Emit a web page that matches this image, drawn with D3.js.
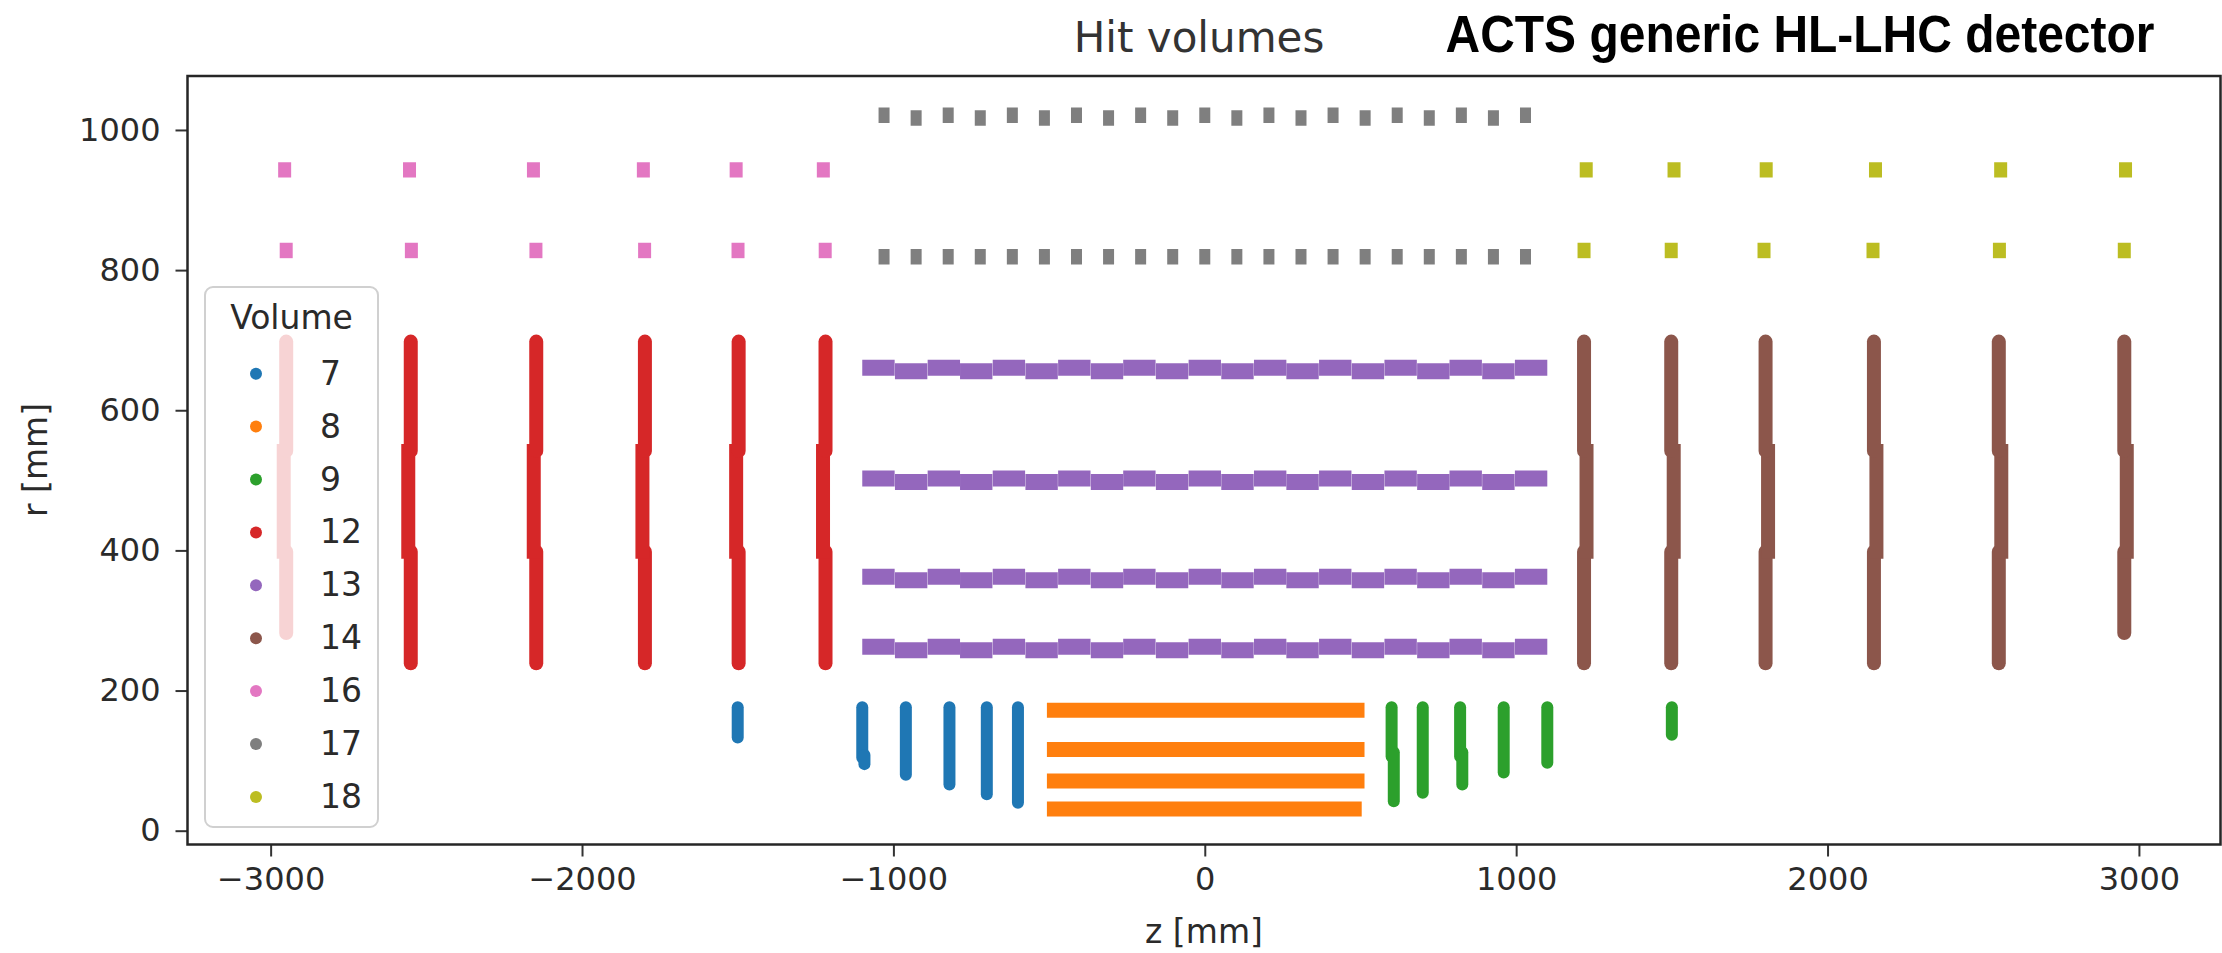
<!DOCTYPE html>
<html>
<head>
<meta charset="utf-8">
<script src="https://cdn.jsdelivr.net/npm/d3@7"></script>
<style>
  body { margin: 0; background: #fff; }
</style>
</head>
<body>
<svg id="chart" width="2222" height="953"></svg>
<script>
// ---- volume ids and their colours ----
const volumeIds = [7, 8, 9, 12, 13, 14, 16, 17, 18];
const volumeColors = ["#1f77b4", "#ff7f0e", "#2ca02c", "#d62728", "#9467bd",
                      "#8c564b", "#e377c2", "#7f7f7f", "#bcbd22"];

// ---- axis ticks ----
const zTicks = [-3000, -2000, -1000, 0, 1000, 2000, 3000];
const rTicks = [0, 200, 400, 600, 800, 1000];

// ---- hit extents, all in mm ----
// disks: [z, rMin, rMax]   layers: [r, zMin, zMax]
const vol7Disks = [              // pixel endcap, negative side
  [-1500, 133, 176],
  [-1100, 104, 176], [-1093, 95, 108],
  [-960, 80, 176],
  [-820, 66, 176],
  [-700, 52, 176],
  [-600, 40, 176]
];
const vol8Layers = [             // pixel barrel
  [172, -507, 513],
  [116, -507, 513],
  [71, -507, 513],
  [31, -507, 504]
];
const vol9Disks = [              // pixel endcap, positive side
  [600, 106, 176], [607, 42, 112],
  [700, 54, 176],
  [820, 106, 176], [827, 66, 112],
  [960, 83, 176],
  [1100, 97, 176],
  [1500, 137, 176]
];
const vol12Disks = [             // short strip endcap, negative side
  [-2950, 282, 398], [-2958, 388, 552], [-2950, 542, 698],
  [-2550, 239, 398], [-2558, 388, 552], [-2550, 542, 698],
  [-2147, 239, 398], [-2155, 388, 552], [-2147, 542, 698],
  [-1798, 239, 398], [-1806, 388, 552], [-1798, 542, 698],
  [-1497, 239, 398], [-1505, 388, 552], [-1497, 542, 698],
  [-1218, 239, 398], [-1226, 388, 552], [-1218, 542, 698]
];
const vol13LayerR = [260, 360, 500, 658];      // short strip barrel radii
const vol13ModuleZ = [-1048, -943, -838, -734, -629, -524, -419, -314, -210, -105, 0,
                      105, 210, 314, 419, 524, 629, 734, 838, 943, 1048];
const vol13ModuleHalfLength = 52;
const vol13Stagger = 2.5;
const vol14Disks = [             // short strip endcap, positive side
  [1218, 239, 398], [1226, 388, 552], [1218, 542, 698],
  [1498, 239, 398], [1506, 388, 552], [1498, 542, 698],
  [1801, 239, 398], [1809, 388, 552], [1801, 542, 698],
  [2149, 239, 398], [2157, 388, 552], [2149, 542, 698],
  [2550, 239, 398], [2558, 388, 552], [2550, 542, 698],
  [2953, 282, 398], [2961, 388, 552], [2953, 542, 698]
];
const vol16Hits = [              // long strip endcap, negative side
  [-2955, 932, 954], [-2554, 932, 954], [-2156, 932, 954],
  [-1803, 932, 954], [-1505, 932, 954], [-1225, 932, 954],
  [-2950, 817, 839], [-2548, 817, 839], [-2148, 817, 839],
  [-1799, 817, 839], [-1499, 817, 839], [-1219, 817, 839]
];
const vol17ModuleZ = [-1030, -927, -824, -721, -618, -515, -412, -309, -206, -103, 0,
                      103, 206, 309, 412, 515, 618, 721, 824, 927, 1030];
const vol17OuterHigh = [1010, 1032];
const vol17OuterLow = [1006, 1028];
const vol17Inner = [808, 830];
const vol18Hits = [              // long strip endcap, positive side
  [1225, 932, 954], [1507, 932, 954], [1803, 932, 954],
  [2154, 932, 954], [2556, 932, 954], [2957, 932, 954],
  [1218, 817, 839], [1498, 817, 839], [1796, 817, 839],
  [2146, 817, 839], [2552, 817, 839], [2953, 817, 839]
];

// ---- layout ----
const svg = d3.select("#chart");
const plot = { left: 187.5, right: 2220.5, top: 76, bottom: 844.5 };
const x = d3.scaleLinear().domain([-3267, 3262]).range([plot.left, plot.right]);
const y = d3.scaleLinear().domain([-19.7, 1077]).range([plot.bottom, plot.top]);
const color = d3.scaleOrdinal().domain(volumeIds).range(volumeColors);
const FONT = "DejaVu Sans, sans-serif";

svg.append("clipPath").attr("id", "plotClip")
  .append("rect").attr("x", plot.left).attr("y", plot.top)
  .attr("width", plot.right - plot.left).attr("height", plot.bottom - plot.top);
const marks = svg.append("g").attr("clip-path", "url(#plotClip)");

function drawDisks(rows, vol, width, cap) {
  marks.append("g").selectAll("line").data(rows).join("line")
    .attr("x1", d => x(d[0])).attr("x2", d => x(d[0]))
    .attr("y1", d => y(d[1])).attr("y2", d => y(d[2]))
    .attr("stroke", color(vol)).attr("stroke-width", width)
    .attr("stroke-linecap", cap);
}
function drawLayers(rows, vol, width, cap) {
  marks.append("g").selectAll("line").data(rows).join("line")
    .attr("x1", d => x(d[1])).attr("x2", d => x(d[2]))
    .attr("y1", d => y(d[0])).attr("y2", d => y(d[0]))
    .attr("stroke", color(vol)).attr("stroke-width", width)
    .attr("stroke-linecap", cap);
}
// rings of a disk: innermost and outermost ends rounded, inner joints flat
function drawRings(rows, vol, width) {
  marks.append("g").selectAll("line").data(rows).join("line")
    .attr("x1", d => x(d[0])).attr("x2", d => x(d[0]))
    .attr("y1", d => y(d[1])).attr("y2", d => y(d[2]))
    .attr("stroke", color(vol)).attr("stroke-width", width)
    .attr("stroke-linecap", (d, i) => (i % 3 === 1 ? "butt" : "round"));
}

// volume 7
drawDisks(vol7Disks, 7, 12, "round");
// volume 8
drawLayers(vol8Layers, 8, 15, "butt");
// volume 9
drawDisks(vol9Disks, 9, 12, "round");
// volume 12
drawRings(vol12Disks, 12, 14);
// volume 13: staggered modules on each layer
const vol13Modules = [];
vol13LayerR.forEach(r => vol13ModuleZ.forEach((z, i) => {
  const rr = i % 2 === 0 ? r + vol13Stagger : r - vol13Stagger;
  vol13Modules.push([rr, z - vol13ModuleHalfLength, z + vol13ModuleHalfLength]);
}));
drawLayers(vol13Modules, 13, 16, "butt");
// volume 14
drawRings(vol14Disks, 14, 14);
// volume 16
drawDisks(vol16Hits, 16, 13, "butt");
// volume 17
const vol17Hits = [];
vol17ModuleZ.forEach((z, i) => {
  const outer = i % 2 === 0 ? vol17OuterHigh : vol17OuterLow;
  vol17Hits.push([z, outer[0], outer[1]]);
  vol17Hits.push([z, vol17Inner[0], vol17Inner[1]]);
});
drawDisks(vol17Hits, 17, 11, "butt");
// volume 18
drawDisks(vol18Hits, 18, 13, "butt");

// ---- axes ----
const fmt = d3.format("d");
const xAxis = svg.append("g")
  .attr("transform", `translate(0,${plot.bottom})`)
  .call(d3.axisBottom(x).tickValues(zTicks).tickFormat(fmt).tickSize(12).tickSizeOuter(0).tickPadding(11));
const yAxis = svg.append("g")
  .attr("transform", `translate(${plot.left},0)`)
  .call(d3.axisLeft(y).tickValues(rTicks).tickFormat(fmt).tickSize(12).tickSizeOuter(0).tickPadding(15));
[xAxis, yAxis].forEach(g => {
  g.select(".domain").remove();
  g.selectAll(".tick line").attr("stroke", "#333").attr("stroke-width", 2);
  g.selectAll(".tick text").attr("fill", "#2a2a2a")
    .style("font-size", "32px").style("font-family", FONT);
});

// frame
svg.append("rect")
  .attr("x", plot.left).attr("y", plot.top)
  .attr("width", plot.right - plot.left).attr("height", plot.bottom - plot.top)
  .attr("fill", "none").attr("stroke", "#262626").attr("stroke-width", 2.5);

// ---- legend ----
const legend = svg.append("g");
legend.append("rect")
  .attr("x", 205).attr("y", 287).attr("width", 173).attr("height", 540)
  .attr("rx", 8).attr("ry", 8)
  .attr("fill", "#fff").attr("fill-opacity", 0.8)
  .attr("stroke", "#d0d0d0").attr("stroke-width", 2);
legend.append("text")
  .attr("x", 291.5).attr("y", 329).attr("text-anchor", "middle")
  .style("font-family", FONT).style("font-size", "33px")
  .attr("fill", "#2a2a2a").text("Volume");
const entries = legend.selectAll("g.entry").data(volumeIds).join("g")
  .attr("class", "entry")
  .attr("transform", (d, i) => `translate(0,${373.7 + 52.9 * i})`);
entries.append("circle").attr("cx", 256).attr("cy", 0).attr("r", 6)
  .attr("fill", d => color(d));
entries.append("text").attr("x", 320).attr("y", 11)
  .style("font-family", FONT).style("font-size", "33px")
  .attr("fill", "#2a2a2a").text(d => d);

// ---- titles and labels ----
svg.append("text")
  .attr("x", 1199).attr("y", 52).attr("text-anchor", "middle")
  .style("font-family", FONT).style("font-size", "42px")
  .attr("fill", "#333").text("Hit volumes");
svg.append("text")
  .attr("x", 1445.5).attr("y", 52)
  .style("font-family", "'Liberation Sans', Arial, sans-serif")
  .style("font-weight", "bold").style("font-size", "51px")
  .attr("textLength", 709).attr("lengthAdjust", "spacingAndGlyphs")
  .attr("fill", "#000").text("ACTS generic HL-LHC detector");
svg.append("text")
  .attr("x", 1204).attr("y", 943).attr("text-anchor", "middle")
  .style("font-family", FONT).style("font-size", "33px")
  .attr("fill", "#2a2a2a").text("z [mm]");
svg.append("text")
  .attr("transform", "translate(47,460) rotate(-90)").attr("text-anchor", "middle")
  .style("font-family", FONT).style("font-size", "33px")
  .attr("fill", "#2a2a2a").text("r [mm]");
</script>
</body>
</html>
